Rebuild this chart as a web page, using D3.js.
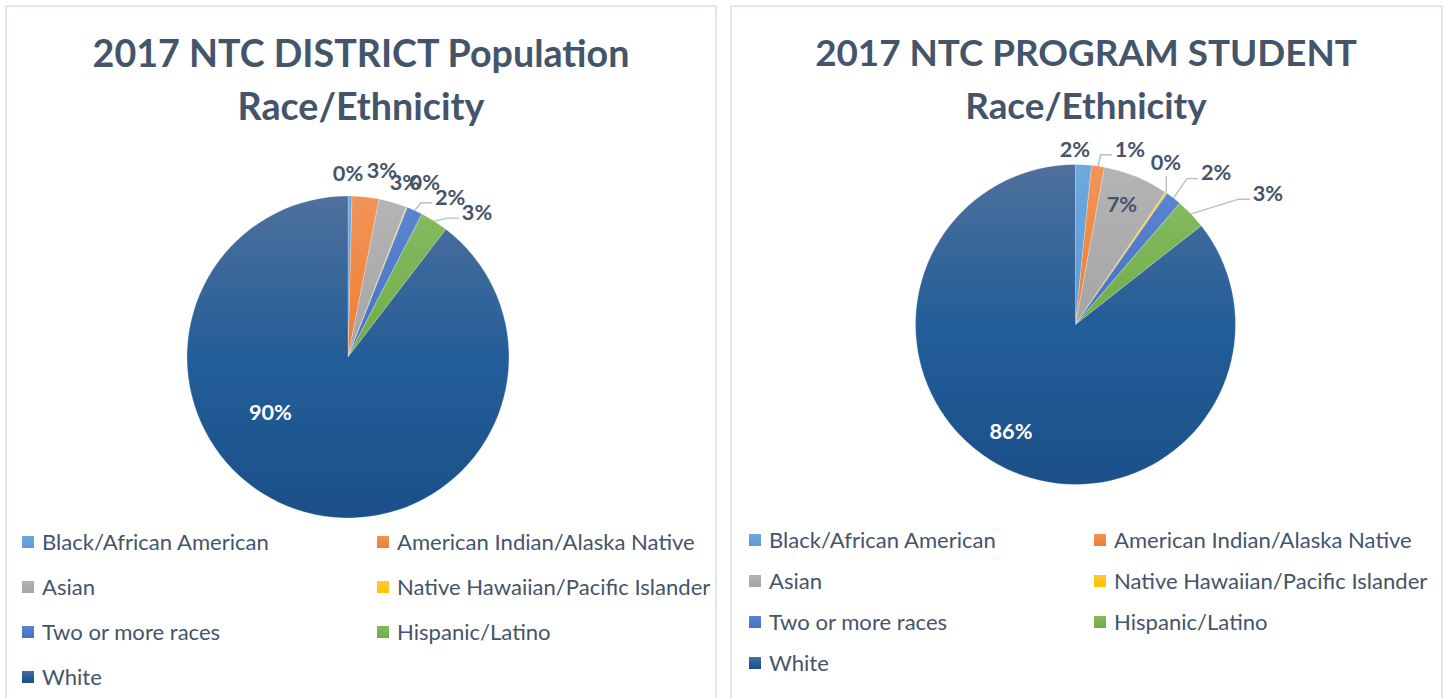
<!DOCTYPE html>
<html><head><meta charset="utf-8">
<script src="https://cdn.jsdelivr.net/npm/d3@7"></script>
<style>html,body{margin:0;padding:0;background:#fff;}svg{display:block;}</style>
</head><body>
<svg id="chart" width="1447" height="698"></svg>
<script>
// ---------------- DATA ----------------
const categories = ["Black/African American","American Indian/Alaska Native","Asian","Native Hawaiian/Pacific Islander","Two or more races","Hispanic/Latino","White"];
const districtValues = [0.4, 2.7, 2.8, 0.1, 1.6, 2.8, 89.6];
const programValues  = [1.6, 1.3, 6.6, 0.2, 1.6, 3.1, 85.6];
const districtTitle = ["2017 NTC DISTRICT Population", "Race/Ethnicity"];
const programTitle  = ["2017 NTC PROGRAM STUDENT", "Race/Ethnicity"];

// ---------------- STYLE / LAYOUT ----------------
const colorStops = [
  ["#6ea9de","#5b9bd5"],
  ["#f29459","#ed7d31"],
  ["#b4b4b4","#a5a5a5"],
  ["#ffcb33","#ffc000"],
  ["#5a84cf","#4472c4"],
  ["#84ba5e","#70ad47"],
  ["#4e709c","#1b5089"]
];
const textColor = "#44546a";
const fontFamily = "Lato, 'Open Sans', sans-serif";

const panels = [
  { values: districtValues, title: districtTitle,
    box:[6,6,710,720], titleX:361, titleY:[53,106], titleW:537,
    cx:348, cy:357, r:161,
    labelPolar:[[0,184],[10.3,190],[18,184],[23.7,191],[32.5,190],[41.7,194],[234.8,95]],
    leader:[0,0,0,0,1,1,0],
    inside:[0,0,0,0,0,0,1],
    legend:{cols:[22,377], textGap:20, rows:[542,587,632,677]} },
  { values: programValues, title: programTitle,
    box:[731,6,711,720], titleX:1086, titleY:[53,106], titleW:542,
    cx:1075.5, cy:324.5, r:160,
    labelPolar:[[-0.2,175],[17.2,184],[21.1,129],[29.1,186],[42.8,207],[55.7,233],[211.2,124.5]],
    leader:[0,1,0,1,1,1,0],
    inside:[0,0,0,0,0,0,1],
    legend:{cols:[749,1094], textGap:20, rows:[540,581,622,663]} }
];

const svg = d3.select("#chart");
const defs = svg.append("defs");
colorStops.forEach((c,i)=>{
  const g = defs.append("linearGradient").attr("id","grad"+i)
    .attr("x1",0).attr("y1",0).attr("x2",0).attr("y2",1);
  g.append("stop").attr("offset","0%").attr("stop-color",c[0]);
  if(i===6) g.append("stop").attr("offset","50%").attr("stop-color","#235e98");
  g.append("stop").attr("offset","100%").attr("stop-color",c[1]);
});

// helper: fit font size so that a reference string has a target width
function fitSize(str, weight, target){
  const t = svg.append("text").attr("font-family",fontFamily).attr("font-weight",weight)
    .attr("font-size",100).text(str);
  const w = t.node().getComputedTextLength();
  t.remove();
  return 100*target/w;
}
const legendSize = fitSize(categories[0], 400, 227);
const labelSize = fitSize("90%", 700, 43);

const pie = d3.pie().sort(null).value(d=>d).startAngle(0).endAngle(2*Math.PI);

panels.forEach((p,pi)=>{
  const g = svg.append("g");
  // panel border
  g.append("rect").attr("x",p.box[0]).attr("y",p.box[1]).attr("width",p.box[2]).attr("height",p.box[3])
    .attr("fill","#fff").attr("stroke","#dfe3ea").attr("stroke-width",1.8);
  // title
  const titleSize = fitSize(p.title[0], 700, p.titleW);
  p.title.forEach((line,li)=>{
    g.append("text").attr("x",p.titleX).attr("y",p.titleY[li]).attr("dy","0.36em")
      .attr("text-anchor","middle").attr("font-family",fontFamily).attr("font-weight",700)
      .attr("font-size",titleSize).attr("fill",textColor).text(line);
  });
  const total = d3.sum(p.values);
  const arcs = pie(p.values);
  const arc = d3.arc().innerRadius(0).outerRadius(p.r);
  const pg = g.append("g").attr("transform",`translate(${p.cx},${p.cy})`);
  pg.selectAll("path.slice").data(arcs).join("path").attr("class","slice")
    .attr("d",arc).attr("fill",(d,i)=>`url(#grad${i})`)
    .attr("stroke","#fff").attr("stroke-width",0.4).attr("stroke-opacity",0.6);

  // labels
  arcs.forEach((d,i)=>{
    const [angDeg, dist] = p.labelPolar[i];
    const a = angDeg*Math.PI/180;
    const lx = Math.sin(a)*dist, ly = -Math.cos(a)*dist;
    const txt = Math.round(d.value/total*100) + "%";
    const t = pg.append("text").attr("x",lx).attr("y",ly).attr("dy","0.36em")
      .attr("text-anchor","middle").attr("font-family",fontFamily).attr("font-weight",700)
      .attr("font-size",labelSize).attr("fill", p.inside[i] ? "#fff" : textColor).text(txt);
    if(p.leader[i]){
      const w = t.node().getComputedTextLength();
      const mid = (d.startAngle+d.endAngle)/2;
      const sx = Math.sin(mid)*p.r, sy = -Math.cos(mid)*p.r;
      const left = lx - w/2;
      let pts;
      if(left > sx + 12){
        pts = [[sx,sy],[left-14, ly+6],[left-3, ly+6]];
      } else {
        pts = [[sx,sy],[sx, ly+14]];
      }
      pg.append("path").attr("d", d3.line()(pts)).attr("fill","none")
        .attr("stroke","#b3bfce").attr("stroke-width",1.4);
    }
  });

  // legend
  const L = p.legend;
  categories.forEach((c,i)=>{
    const col = i%2, row = Math.floor(i/2);
    const x = L.cols[col], y = L.rows[row];
    g.append("rect").attr("x",x).attr("y",y-6).attr("width",12).attr("height",12)
      .attr("fill",`url(#grad${i})`);
    g.append("text").attr("x",x+L.textGap).attr("y",y).attr("dy","0.35em")
      .attr("font-family",fontFamily).attr("font-size",legendSize).attr("fill",textColor).text(c);
  });
});
</script>
</body></html>
